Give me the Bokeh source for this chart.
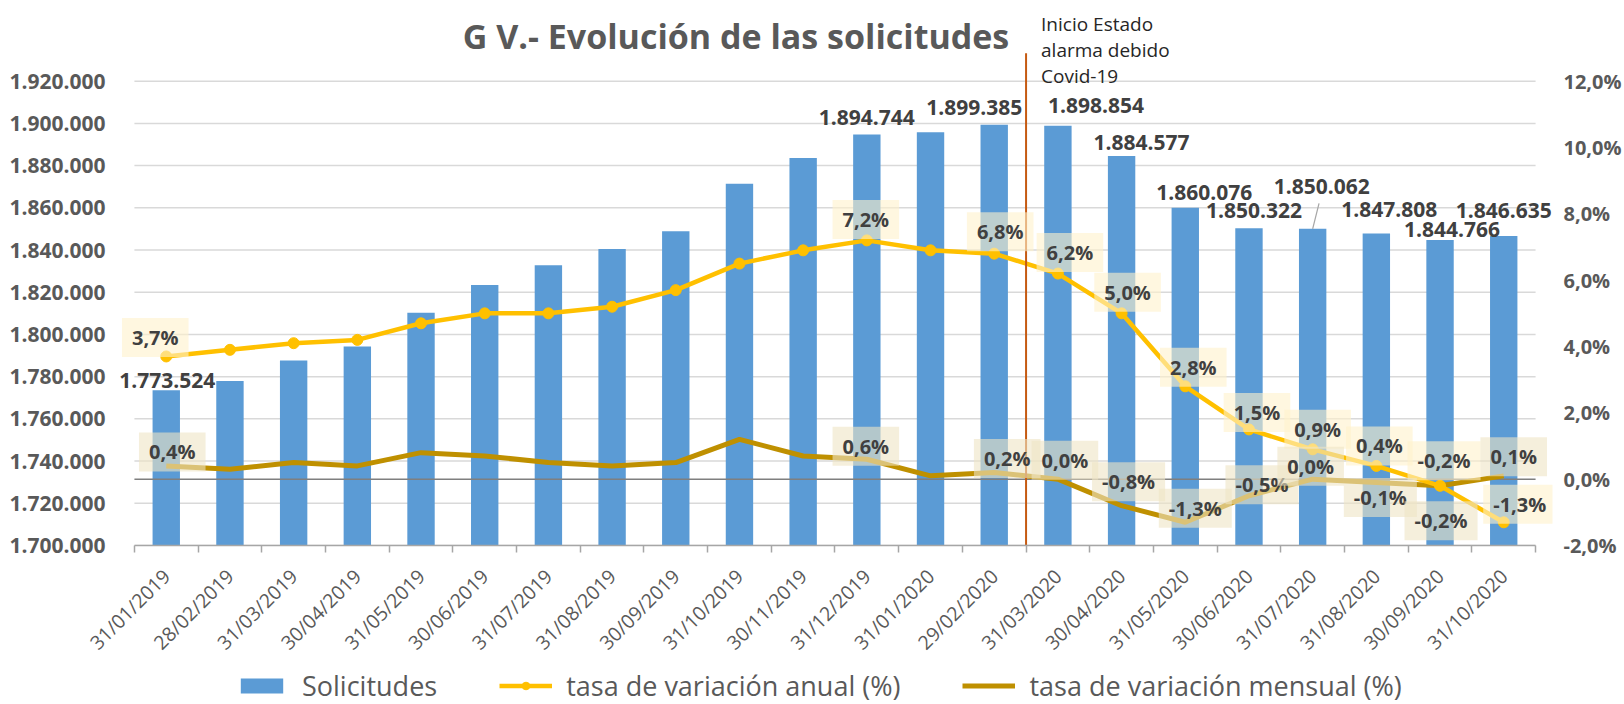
import math
from bokeh.plotting import figure
from bokeh.layouts import column
from bokeh.models import (Range1d, LinearAxis, FixedTicker, ColumnDataSource,
                          Legend, LegendItem)
from bokeh.core.properties import value
from bokeh.embed import file_html
from bokeh.resources import INLINE

# ---------------- data ----------------
categories = ["31/01/2019", "28/02/2019", "31/03/2019", "30/04/2019", "31/05/2019", "30/06/2019",
              "31/07/2019", "31/08/2019", "30/09/2019", "31/10/2019", "30/11/2019", "31/12/2019",
              "31/01/2020", "29/02/2020", "31/03/2020", "30/04/2020", "31/05/2020", "30/06/2020",
              "31/07/2020", "31/08/2020", "30/09/2020", "31/10/2020"]
solicitudes = [1773524, 1778000, 1787700, 1794300, 1810300, 1823400, 1832800, 1840500,
               1848900, 1871400, 1883600, 1894744, 1895800, 1899385, 1898854, 1884577,
               1860076, 1850322, 1850062, 1847808, 1844766, 1846635]
tasa_anual = [3.7, 3.9, 4.1, 4.2, 4.7, 5.0, 5.0, 5.2, 5.7, 6.5, 6.9, 7.2,
              6.9, 6.8, 6.2, 5.0, 2.8, 1.5, 0.9, 0.4, -0.2, -1.3]
tasa_mensual = [0.4, 0.3, 0.5, 0.4, 0.8, 0.7, 0.5, 0.4, 0.5, 1.2, 0.7, 0.6,
                0.1, 0.2, 0.0, -0.8, -1.3, -0.5, 0.0, -0.1, -0.2, 0.1]
labelled = [0, 11, 13, 14, 15, 16, 17, 18, 19, 20, 21]
left_ticks = list(range(1700000, 1920001, 20000))
right_ticks = list(range(-2, 13, 2))
alarm_start = "31/03/2020"
title_text = "G V.- Evolución  de las solicitudes"
note_lines = ["Inicio Estado", "alarma debido", "Covid-19"]
series_names = ["Solicitudes", "tasa de variación anual (%)", "tasa de variación mensual (%)"]

# ---------------- layout / style (not data) ----------------
FONT = "Open Sans"
GREY = "#595959"
DARK = "#404040"
N = len(categories)
xs = [i + 0.5 for i in range(N)]          # category centres on a linear scale

W = 1624
MAIN_H = 667
LEG_H = 704 - MAIN_H
B_LEFT, B_RIGHT = 115, 66                  # frame borders (px)
PAD_L_PX, PAD_R_PX = 19, 17                # frame room outside the category area (px)
PLOT_PX = W - B_LEFT - B_RIGHT - PAD_L_PX - PAD_R_PX
UNIT = PLOT_PX / N
X_START = -PAD_L_PX / UNIT
X_END = N + PAD_R_PX / UNIT

FRAME_BOTTOM = 547                         # px from top
GRID_TOP = 81                              # px of the highest gridline
Y0 = left_ticks[0]
PX_PER_VAL = (FRAME_BOTTOM - GRID_TOP) / (left_ticks[-1] - Y0)
Y_TOP = left_ticks[-1] + GRID_TOP / PX_PER_VAL
PCT_PER_VAL = (right_ticks[-1] - right_ticks[0]) / (left_ticks[-1] - Y0)
PCT_TOP = right_ticks[0] + (Y_TOP - Y0) * PCT_PER_VAL
ALARM_LINE_TOP = Y_TOP - 53 / PX_PER_VAL

bar_dx = [1, 0, -20, 38, 20, 19, 5, 9, 13, 12, 0]
bar_dy = [-10, -17, -17, -20, -13, -15, -18, -42, -24, -10, -26]
an_dx = [-11, -1, 6, 12, 6, 8, 8, 5, 3, 4, 16]
an_dy = [-19, -21, -22, -21, -21, -19, -17, -20, -20, -25, -18]
me_dx = [6, -1, 13, 7, 7, 10, 13, -2, 4, 1, 10]
me_dy = [-14, -13, -14, -19, -24, -14, -11, -13, 15, 35, -19]

BAR_C = "#5B9BD5"
ANUAL_C = "#FFC000"
MENS_C = "#BF9000"


def fmt_int(v):
    return f"{v:,}".replace(",", ".")


def fmt_pct(v):
    return f"{v:.1f}".replace(".", ",") + "%"


p = figure(width=W, height=MAIN_H, x_range=Range1d(X_START, X_END),
           y_range=Range1d(Y0, Y_TOP), x_axis_location=None, y_axis_location="left",
           toolbar_location=None, output_backend="svg",
           min_border_left=B_LEFT, min_border_right=B_RIGHT, min_border_top=0,
           min_border_bottom=MAIN_H - FRAME_BOTTOM)
p.outline_line_color = None
p.background_fill_color = "white"
p.extra_y_ranges = {"pct": Range1d(right_ticks[0], PCT_TOP)}
p.xgrid.visible = False
p.ygrid.visible = False

# left axis
la = p.yaxis[0]
la.ticker = FixedTicker(ticks=left_ticks)
la.major_label_overrides = {t: fmt_int(t) for t in left_ticks}
la.axis_line_color = None
la.major_tick_line_color = None
la.minor_tick_line_color = None
la.major_label_standoff = 4
la.major_label_text_font = FONT
la.major_label_text_font_style = "bold"
la.major_label_text_font_size = "21px"
la.major_label_text_color = GREY

# right axis
ra = LinearAxis(y_range_name="pct", ticker=FixedTicker(ticks=right_ticks),
                major_label_overrides={t: fmt_pct(t) for t in right_ticks})
ra.axis_line_color = None
ra.major_tick_line_color = None
ra.minor_tick_line_color = None
ra.major_label_standoff = 5
ra.major_label_text_font = FONT
ra.major_label_text_font_style = "bold"
ra.major_label_text_font_size = "20px"
ra.major_label_text_color = GREY
p.add_layout(ra, "right")

# bottom: boundary ticks (no labels) + category labels
ta = LinearAxis(ticker=FixedTicker(ticks=list(range(N + 1))), bounds=(0, N),
                major_label_overrides={i: "" for i in range(N + 1)})
ta.major_tick_out = 7
ta.major_tick_in = 0
ta.minor_tick_line_color = None
ta.major_label_text_font_size = "0px"
ta.major_label_standoff = 0
ta.axis_line_color = "#A6A6A6"
ta.axis_line_width = 1.5
ta.major_tick_line_color = "#A6A6A6"
ta.major_tick_line_width = 1.5
p.add_layout(ta, "below")

ca = LinearAxis(ticker=FixedTicker(ticks=xs),
                major_label_overrides={x: c for x, c in zip(xs, categories)})
ca.axis_line_color = None
ca.major_tick_line_color = None
ca.minor_tick_line_color = None
ca.major_tick_out = 0
ca.major_label_orientation = math.pi / 4
ca.major_label_standoff = 20
ca.major_label_text_font = FONT
ca.major_label_text_font_size = "19.5px"
ca.major_label_text_color = GREY
p.add_layout(ca, "below")

# gridlines (span only the category area)
p.segment(x0=[0] * len(left_ticks), x1=[N] * len(left_ticks), y0=left_ticks, y1=left_ticks,
          line_color="#D9D9D9", line_width=1.5)

# bars
bars = p.vbar(x=xs, top=solicitudes, bottom=Y0, width=0.43,
              fill_color=BAR_C, line_color=None)

# zero line of the secondary axis
p.segment(x0=[0], x1=[N], y0=[0], y1=[0], y_range_name="pct",
          line_color="#7F7F7F", line_width=1.5)

# lines
mens = p.line(x=xs, y=tasa_mensual, y_range_name="pct", line_color=MENS_C, line_width=5)
anual = p.line(x=xs, y=tasa_anual, y_range_name="pct", line_color=ANUAL_C, line_width=4.5)
anual_pts = p.scatter(x=xs, y=tasa_anual, y_range_name="pct", size=11,
                      fill_color=ANUAL_C, line_color=ANUAL_C)

# alarm line (at the start of the "31/03/2020" category)
xa = categories.index(alarm_start)
p.segment(x0=[xa], y0=[Y0], x1=[xa], y1=[ALARM_LINE_TOP],
          line_color="#C55A11", line_width=2)

# leader line for one label
k = 18
p.segment(x0=[xs[k]], y0=[solicitudes[k]], x1=[xs[k] + 0.1],
          y1=[solicitudes[k] + 12000], line_color="#A6A6A6", line_width=1.2)

# bar value labels
bsrc = ColumnDataSource(dict(x=[xs[i] for i in labelled],
                             y=[solicitudes[i] for i in labelled],
                             text=[fmt_int(solicitudes[i]) for i in labelled],
                             dx=bar_dx, dy=bar_dy))
p.text(x="x", y="y", text="text", x_offset="dx", y_offset="dy", source=bsrc,
       text_font=value(FONT), text_font_style="bold", text_font_size="21px",
       text_color=DARK, text_align="center", text_baseline="middle")

BOX_PAD = dict(left=10, right=10, top=6, bottom=6)

# annual labels
asrc = ColumnDataSource(dict(x=[xs[i] for i in labelled],
                             y=[tasa_anual[i] for i in labelled],
                             text=[fmt_pct(tasa_anual[i]) for i in labelled],
                             dx=an_dx, dy=an_dy))
p.text(x="x", y="y", text="text", x_offset="dx", y_offset="dy", source=asrc,
       y_range_name="pct", text_font=value(FONT), text_font_style="bold",
       text_font_size="20px", text_color=DARK, text_align="center", text_baseline="middle",
       background_fill_color="#FFF2CC", background_fill_alpha=0.6, padding=BOX_PAD)

# monthly labels
msrc = ColumnDataSource(dict(x=[xs[i] for i in labelled],
                             y=[tasa_mensual[i] for i in labelled],
                             text=[fmt_pct(tasa_mensual[i]) for i in labelled],
                             dx=me_dx, dy=me_dy))
p.text(x="x", y="y", text="text", x_offset="dx", y_offset="dy", source=msrc,
       y_range_name="pct", text_font=value(FONT), text_font_style="bold",
       text_font_size="20px", text_color=DARK, text_align="center", text_baseline="middle",
       background_fill_color="#EFE4C4", background_fill_alpha=0.6, padding=BOX_PAD)

# title
p.text(x=[0], y=[Y_TOP], text=[title_text], x_offset=[606], y_offset=[35],
       text_font=value(FONT), text_font_style="bold", text_font_size="34px",
       text_color=GREY, text_align="center", text_baseline="alphabetic")

# note near the alarm line
p.text(x=[xa] * 3, y=[Y_TOP] * 3, text=note_lines, x_offset=15,
       y_offset=[23, 49, 75], text_font=value(FONT), text_font_size="19px",
       text_color="#262626", text_align="left", text_baseline="middle")

# ---------------- legend strip ----------------
q = figure(width=W, height=LEG_H, x_range=Range1d(0, 1), y_range=Range1d(0, 1),
           x_axis_location=None, y_axis_location=None, toolbar_location=None,
           output_backend="svg", min_border=0)
q.outline_line_color = None
q.xgrid.visible = False
q.ygrid.visible = False
# legend-only renderers (placed outside the visible range)
lb = q.vbar(x=[-5], top=[-5], bottom=[-6], width=0.1, fill_color=BAR_C, line_color=None)
la_ = q.line(x=[-5, -4], y=[-5, -5], line_color=ANUAL_C, line_width=4.5)
lp = q.scatter(x=[-5], y=[-5], size=12, fill_color=ANUAL_C, line_color=ANUAL_C)
lm = q.line(x=[-5, -4], y=[-5, -5], line_color=MENS_C, line_width=5)
legend = Legend(items=[LegendItem(label=series_names[0], renderers=[lb]),
                       LegendItem(label=series_names[1], renderers=[la_, lp]),
                       LegendItem(label=series_names[2], renderers=[lm])],
                location=(235 - B_LEFT, 0), orientation="horizontal")
legend.label_text_font = FONT
legend.label_text_font_size = "27px"
legend.label_text_color = GREY
legend.glyph_width = 53
legend.glyph_height = 19
legend.label_standoff = 14
legend.spacing = 62
legend.padding = 0
legend.margin = 0
legend.border_line_color = None
legend.background_fill_alpha = 0
q.add_layout(legend)

open("out.html", "w").write(file_html(column(p, q), INLINE))
